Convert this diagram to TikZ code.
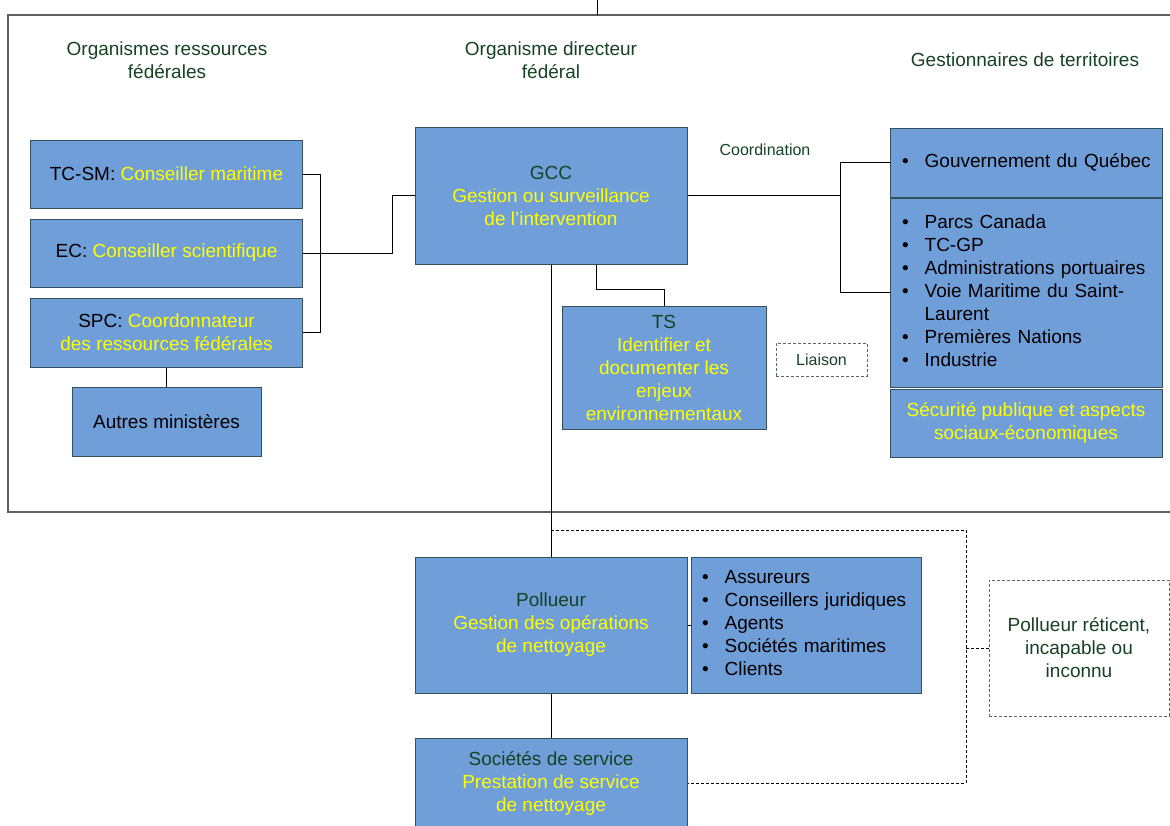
\documentclass[tikz,border=0pt]{standalone}
\usepackage{fontspec}
\setmainfont{Liberation Sans}
\usetikzlibrary{positioning}

\definecolor{boxfill}{RGB}{112,158,216}
\definecolor{boxline}{RGB}{52,82,92}
\definecolor{hilite}{RGB}{255,255,0}
\definecolor{dkgreen}{RGB}{22,66,36}
\definecolor{framegray}{RGB}{95,95,95}
\definecolor{dashgray}{RGB}{90,105,90}

\newcommand{\diagfont}{\fontsize{19pt}{23pt}\selectfont}
\newcommand{\notefont}{\fontsize{16pt}{19pt}\selectfont}
\newcommand{\ylw}[1]{\textcolor{hilite}{#1}}
\newcommand{\grn}[1]{\textcolor{dkgreen}{#1}}

\begin{document}
\begin{tikzpicture}[
    x=1pt, y=-1pt,
    box/.style={draw=boxline, fill=boxfill, line width=1pt, align=center,
                minimum width=272pt, minimum height=68pt, font=\diagfont},
    listbox/.style={box, align=left, inner xsep=12pt, text width=248pt},
    head/.style={align=center, text=dkgreen, font=\diagfont},
    note/.style={draw=dashgray, densely dashed, line width=0.8pt,
                 align=center, text=dkgreen},
    link/.style={draw=black, line width=0.9pt},
    dlink/.style={link, densely dashed, line width=0.7pt}
  ]
  \useasboundingbox (0,0) rectangle (1170,825);
  \clip (0,0) rectangle (1170,825);

  \draw[framegray, line width=1.4pt] (8,15) rectangle (1190,512);

  % column headings
  \node[head] (hres) at (167,60) {Organismes ressources\\fédérales};
  \node[head] (hdir) at (551,60) {Organisme directeur\\fédéral};
  \node[head] (hter) at (1025,60) {Gestionnaires de territoires};

  % federal resources
  \node[box] (tcsm) at (166.5,174) {TC-SM: \ylw{Conseiller maritime}};
  \node[box, below=10pt of tcsm] (ec) {EC: \ylw{Conseiller scientifique}};
  \node[box, below=10pt of ec, minimum height=69pt] (spc)
    {SPC: \ylw{Coordonnateur}\\\ylw{des ressources fédérales}};
  \node[box, below=19pt of spc, minimum width=189pt, minimum height=69pt]
    (autres) {Autres ministères};

  % lead agency
  \node[box, minimum height=137pt] (gcc) at (551,195.5)
    {\grn{GCC}\\\ylw{Gestion ou surveillance}\\\ylw{de l’intervention}};
  \node[box, minimum width=204pt, minimum height=123pt] (ts) at (664,367.5)
    {\grn{TS}\\\ylw{Identifier et}\\\ylw{documenter les}\\\ylw{enjeux}\\\ylw{environnementaux}};
  \node[note, minimum width=91pt, minimum height=33pt, font=\notefont]
    (liaison) at (821.5,359.5) {Liaison};
  \node[text=dkgreen, font=\notefont] (coord) at (765,150) {Coordination};

  % land managers
  \node[listbox, minimum height=69pt] (quebec) at (1026,162.5)
    {\begin{tabular}{@{}l@{\hspace{16pt}}l@{}}
      \textbullet & Gouvernement du Québec
    \end{tabular}};
  \node[listbox, below=0pt of quebec, minimum height=189pt] (partners)
    {\begin{tabular}{@{}l@{\hspace{16pt}}l@{}}
      \textbullet & Parcs Canada\\
      \textbullet & TC-GP\\
      \textbullet & Administrations portuaires\\
      \textbullet & Voie Maritime du Saint-\\
                  & Laurent\\
      \textbullet & Premières Nations\\
      \textbullet & Industrie
    \end{tabular}};
  \node[box, below=1pt of partners] (secu)
    {\ylw{Sécurité publique et aspects}\\\ylw{sociaux-économiques}};

  % polluer side
  \node[box, minimum height=136pt] (pol) at (551,625)
    {\grn{Pollueur}\\\ylw{Gestion des opérations}\\\ylw{de nettoyage}};
  \node[listbox, right=3pt of pol, minimum width=230pt, text width=208pt,
        inner xsep=11pt, minimum height=136pt] (clients)
    {\begin{tabular}{@{}l@{\hspace{16pt}}l@{}}
      \textbullet & Assureurs\\
      \textbullet & Conseillers juridiques\\
      \textbullet & Agents\\
      \textbullet & Sociétés maritimes\\
      \textbullet & Clients
    \end{tabular}};
  \node[note, minimum width=180pt, minimum height=136pt, font=\diagfont]
    (reticent) at (1079,648) {Pollueur réticent,\\incapable ou\\inconnu};
  \node[box, below=44pt of pol, minimum height=90pt] (serv)
    {\grn{Sociétés de service}\\\ylw{Prestation de service}\\\ylw{de nettoyage}};

  % connectors
  \draw[link] (597,15) -- ++(0,-20);
  \draw[link] (tcsm.east) -- ++(17,0) |- (spc.east);
  \draw[link] (ec.east) -- ++(89,0) |- (gcc.west);
  \draw[link] (spc.south) -- (autres.north);
  \draw[link] ([xshift=45pt]gcc.south) -- ++(0,25) -| (ts.north);
  \draw[link] (gcc.south) -- (pol.north);
  \draw[link] (gcc.east) -- ++(153,0) coordinate (cbus);
  \draw[link] (quebec.west) -| (cbus) |- (partners.west);
  \draw[link] (pol.east) -- (clients.west);
  \draw[link] (pol.south) -- (serv.north);
  \coordinate (split) at (551,530);
  \coordinate (dbus) at (966,648);
  \draw[dlink] (split) -| (dbus) |- (serv.east);
  \draw[dlink] (dbus) -- (reticent.west);
\end{tikzpicture}
\end{document}
